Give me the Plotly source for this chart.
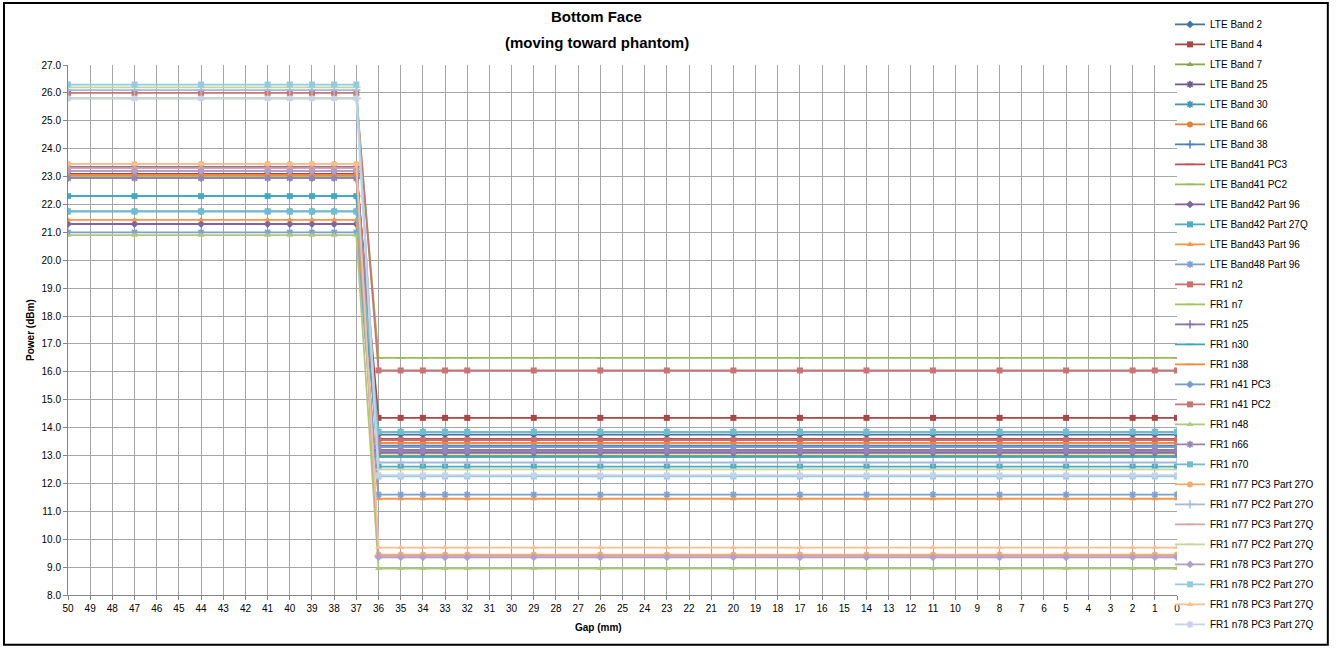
import plotly.graph_objects as go

gaps = [50, 47, 44, 41, 40, 39, 38, 37,
        36, 35, 34, 33, 32, 29, 26, 23, 20, 17, 14, 11, 8, 5, 2, 1, 0]

lte_b2 = [23.1, 23.1, 23.1, 23.1, 23.1, 23.1, 23.1, 23.1,
          13.75, 13.75, 13.75, 13.75, 13.75, 13.75, 13.75, 13.75, 13.75, 13.75, 13.75, 13.75, 13.75, 13.75, 13.75, 13.75, 13.75]
lte_b4 = [23.1, 23.1, 23.1, 23.1, 23.1, 23.1, 23.1, 23.1,
          14.35, 14.35, 14.35, 14.35, 14.35, 14.35, 14.35, 14.35, 14.35, 14.35, 14.35, 14.35, 14.35, 14.35, 14.35, 14.35, 14.35]
lte_b7 = [23.0, 23.0, 23.0, 23.0, 23.0, 23.0, 23.0, 23.0,
          13.0, 13.0, 13.0, 13.0, 13.0, 13.0, 13.0, 13.0, 13.0, 13.0, 13.0, 13.0, 13.0, 13.0, 13.0, 13.0, 13.0]
lte_b25 = [22.95, 22.95, 22.95, 22.95, 22.95, 22.95, 22.95, 22.95,
           13.2, 13.2, 13.2, 13.2, 13.2, 13.2, 13.2, 13.2, 13.2, 13.2, 13.2, 13.2, 13.2, 13.2, 13.2, 13.2, 13.2]
lte_b30 = [21.75, 21.75, 21.75, 21.75, 21.75, 21.75, 21.75, 21.75,
           13.85, 13.85, 13.85, 13.85, 13.85, 13.85, 13.85, 13.85, 13.85, 13.85, 13.85, 13.85, 13.85, 13.85, 13.85, 13.85, 13.85]
lte_b66 = [23.05, 23.05, 23.05, 23.05, 23.05, 23.05, 23.05, 23.05,
           13.45, 13.45, 13.45, 13.45, 13.45, 13.45, 13.45, 13.45, 13.45, 13.45, 13.45, 13.45, 13.45, 13.45, 13.45, 13.45, 13.45]
lte_b38 = [23.2, 23.2, 23.2, 23.2, 23.2, 23.2, 23.2, 23.2,
           13.35, 13.35, 13.35, 13.35, 13.35, 13.35, 13.35, 13.35, 13.35, 13.35, 13.35, 13.35, 13.35, 13.35, 13.35, 13.35, 13.35]
lte_b41_pc3 = [23.3, 23.3, 23.3, 23.3, 23.3, 23.3, 23.3, 23.3,
               13.6, 13.6, 13.6, 13.6, 13.6, 13.6, 13.6, 13.6, 13.6, 13.6, 13.6, 13.6, 13.6, 13.6, 13.6, 13.6, 13.6]
lte_b41_pc2 = [25.8, 25.8, 25.8, 25.8, 25.8, 25.8, 25.8, 25.8,
               16.5, 16.5, 16.5, 16.5, 16.5, 16.5, 16.5, 16.5, 16.5, 16.5, 16.5, 16.5, 16.5, 16.5, 16.5, 16.5, 16.5]
lte_b42_p96 = [21.3, 21.3, 21.3, 21.3, 21.3, 21.3, 21.3, 21.3,
               13.1, 13.1, 13.1, 13.1, 13.1, 13.1, 13.1, 13.1, 13.1, 13.1, 13.1, 13.1, 13.1, 13.1, 13.1, 13.1, 13.1]
lte_b42_p27q = [22.3, 22.3, 22.3, 22.3, 22.3, 22.3, 22.3, 22.3,
                12.6, 12.6, 12.6, 12.6, 12.6, 12.6, 12.6, 12.6, 12.6, 12.6, 12.6, 12.6, 12.6, 12.6, 12.6, 12.6, 12.6]
lte_b43_p96 = [21.45, 21.45, 21.45, 21.45, 21.45, 21.45, 21.45, 21.45,
               11.45, 11.45, 11.45, 11.45, 11.45, 11.45, 11.45, 11.45, 11.45, 11.45, 11.45, 11.45, 11.45, 11.45, 11.45, 11.45, 11.45]
lte_b48_p96 = [21.0, 21.0, 21.0, 21.0, 21.0, 21.0, 21.0, 21.0,
               11.6, 11.6, 11.6, 11.6, 11.6, 11.6, 11.6, 11.6, 11.6, 11.6, 11.6, 11.6, 11.6, 11.6, 11.6, 11.6, 11.6]
fr1_n2 = [23.35, 23.35, 23.35, 23.35, 23.35, 23.35, 23.35, 23.35,
          13.55, 13.55, 13.55, 13.55, 13.55, 13.55, 13.55, 13.55, 13.55, 13.55, 13.55, 13.55, 13.55, 13.55, 13.55, 13.55, 13.55]
fr1_n7 = [23.0, 23.0, 23.0, 23.0, 23.0, 23.0, 23.0, 23.0,
          12.95, 12.95, 12.95, 12.95, 12.95, 12.95, 12.95, 12.95, 12.95, 12.95, 12.95, 12.95, 12.95, 12.95, 12.95, 12.95, 12.95]
fr1_n25 = [23.35, 23.35, 23.35, 23.35, 23.35, 23.35, 23.35, 23.35,
           13.2, 13.2, 13.2, 13.2, 13.2, 13.2, 13.2, 13.2, 13.2, 13.2, 13.2, 13.2, 13.2, 13.2, 13.2, 13.2, 13.2]
fr1_n30 = [22.3, 22.3, 22.3, 22.3, 22.3, 22.3, 22.3, 22.3,
           12.95, 12.95, 12.95, 12.95, 12.95, 12.95, 12.95, 12.95, 12.95, 12.95, 12.95, 12.95, 12.95, 12.95, 12.95, 12.95, 12.95]
fr1_n38 = [23.05, 23.05, 23.05, 23.05, 23.05, 23.05, 23.05, 23.05,
           13.45, 13.45, 13.45, 13.45, 13.45, 13.45, 13.45, 13.45, 13.45, 13.45, 13.45, 13.45, 13.45, 13.45, 13.45, 13.45, 13.45]
fr1_n41_pc3 = [23.2, 23.2, 23.2, 23.2, 23.2, 23.2, 23.2, 23.2,
               13.3, 13.3, 13.3, 13.3, 13.3, 13.3, 13.3, 13.3, 13.3, 13.3, 13.3, 13.3, 13.3, 13.3, 13.3, 13.3, 13.3]
fr1_n41_pc2 = [26.0, 26.0, 26.0, 26.0, 26.0, 26.0, 26.0, 26.0,
               16.05, 16.05, 16.05, 16.05, 16.05, 16.05, 16.05, 16.05, 16.05, 16.05, 16.05, 16.05, 16.05, 16.05, 16.05, 16.05, 16.05]
fr1_n48 = [20.9, 20.9, 20.9, 20.9, 20.9, 20.9, 20.9, 20.9,
           8.95, 8.95, 8.95, 8.95, 8.95, 8.95, 8.95, 8.95, 8.95, 8.95, 8.95, 8.95, 8.95, 8.95, 8.95, 8.95, 8.95]
fr1_n66 = [22.95, 22.95, 22.95, 22.95, 22.95, 22.95, 22.95, 22.95,
           13.15, 13.15, 13.15, 13.15, 13.15, 13.15, 13.15, 13.15, 13.15, 13.15, 13.15, 13.15, 13.15, 13.15, 13.15, 13.15, 13.15]
fr1_n70 = [21.75, 21.75, 21.75, 21.75, 21.75, 21.75, 21.75, 21.75,
           13.85, 13.85, 13.85, 13.85, 13.85, 13.85, 13.85, 13.85, 13.85, 13.85, 13.85, 13.85, 13.85, 13.85, 13.85, 13.85, 13.85]
fr1_n77_pc3_27o = [23.45, 23.45, 23.45, 23.45, 23.45, 23.45, 23.45, 23.45,
                   9.45, 9.45, 9.45, 9.45, 9.45, 9.45, 9.45, 9.45, 9.45, 9.45, 9.45, 9.45, 9.45, 9.45, 9.45, 9.45, 9.45]
fr1_n77_pc2_27o = [26.1, 26.1, 26.1, 26.1, 26.1, 26.1, 26.1, 26.1,
                   12.75, 12.75, 12.75, 12.75, 12.75, 12.75, 12.75, 12.75, 12.75, 12.75, 12.75, 12.75, 12.75, 12.75, 12.75, 12.75, 12.75]
fr1_n77_pc3_27q = [23.3, 23.3, 23.3, 23.3, 23.3, 23.3, 23.3, 23.3,
                   9.4, 9.4, 9.4, 9.4, 9.4, 9.4, 9.4, 9.4, 9.4, 9.4, 9.4, 9.4, 9.4, 9.4, 9.4, 9.4, 9.4]
fr1_n77_pc2_27q = [26.2, 26.2, 26.2, 26.2, 26.2, 26.2, 26.2, 26.2,
                   12.5, 12.5, 12.5, 12.5, 12.5, 12.5, 12.5, 12.5, 12.5, 12.5, 12.5, 12.5, 12.5, 12.5, 12.5, 12.5, 12.5]
fr1_n78_pc3_27o = [23.2, 23.2, 23.2, 23.2, 23.2, 23.2, 23.2, 23.2,
                   9.35, 9.35, 9.35, 9.35, 9.35, 9.35, 9.35, 9.35, 9.35, 9.35, 9.35, 9.35, 9.35, 9.35, 9.35, 9.35, 9.35]
fr1_n78_pc2_27o = [26.3, 26.3, 26.3, 26.3, 26.3, 26.3, 26.3, 26.3,
                   12.25, 12.25, 12.25, 12.25, 12.25, 12.25, 12.25, 12.25, 12.25, 12.25, 12.25, 12.25, 12.25, 12.25, 12.25, 12.25, 12.25]
fr1_n78_pc3_27q = [23.45, 23.45, 23.45, 23.45, 23.45, 23.45, 23.45, 23.45,
                   9.7, 9.7, 9.7, 9.7, 9.7, 9.7, 9.7, 9.7, 9.7, 9.7, 9.7, 9.7, 9.7, 9.7, 9.7, 9.7, 9.7]
fr1_n78_pc3_27q_b = [25.8, 25.8, 25.8, 25.8, 25.8, 25.8, 25.8, 25.8,
                     12.3, 12.3, 12.3, 12.3, 12.3, 12.3, 12.3, 12.3, 12.3, 12.3, 12.3, 12.3, 12.3, 12.3, 12.3, 12.3, 12.3]

series_names = [
    "LTE Band 2", "LTE Band 4", "LTE Band 7", "LTE Band 25", "LTE Band 30",
    "LTE Band 66", "LTE Band 38", "LTE Band41 PC3", "LTE Band41 PC2",
    "LTE Band42 Part 96", "LTE Band42 Part 27Q", "LTE Band43 Part 96",
    "LTE Band48 Part 96", "FR1 n2", "FR1 n7", "FR1 n25", "FR1 n30", "FR1 n38",
    "FR1 n41 PC3", "FR1 n41 PC2", "FR1 n48", "FR1 n66", "FR1 n70",
    "FR1 n77 PC3 Part 27O", "FR1 n77 PC2 Part 27O", "FR1 n77 PC3 Part 27Q",
    "FR1 n77 PC2 Part 27Q", "FR1 n78 PC3 Part 27O", "FR1 n78 PC2 Part 27O",
    "FR1 n78 PC3 Part 27Q", "FR1 n78 PC3 Part 27Q",
]
series_values = [
    lte_b2, lte_b4, lte_b7, lte_b25, lte_b30, lte_b66, lte_b38, lte_b41_pc3,
    lte_b41_pc2, lte_b42_p96, lte_b42_p27q, lte_b43_p96, lte_b48_p96,
    fr1_n2, fr1_n7, fr1_n25, fr1_n30, fr1_n38, fr1_n41_pc3, fr1_n41_pc2,
    fr1_n48, fr1_n66, fr1_n70, fr1_n77_pc3_27o, fr1_n77_pc2_27o,
    fr1_n77_pc3_27q, fr1_n77_pc2_27q, fr1_n78_pc3_27o, fr1_n78_pc2_27o,
    fr1_n78_pc3_27q, fr1_n78_pc3_27q_b,
]
colors = [
    "#4572A7", "#AA4643", "#89A54E", "#71588F", "#4198AF", "#DB843D",
    "#4F81BD", "#C0504D", "#9BBB59", "#8064A2", "#4BACC6", "#F79646",
    "#7CA1D1", "#D06B68", "#A5C35E", "#8C73AF", "#3FA7C5", "#F58A3A",
    "#7A9BD0", "#CD7371", "#AFC97A", "#9983B5", "#6FBDD1", "#F9AB6B",
    "#A5B9DD", "#DDA3A2", "#C4D6A0", "#B1A0C7", "#93CDDD", "#FAC090",
    "#C6D2EA",
]
symbols = [
    "diamond", "square", "triangle-up", "asterisk-open", "asterisk-open", "circle",
    "cross-thin-open", "line-ew-open", "line-ew-open", "diamond", "square", "triangle-up",
    "asterisk-open", "square", "line-ew-open", "cross-thin-open", "line-ew-open", "line-ew-open",
    "diamond", "square", "triangle-up", "asterisk-open", "square", "circle",
    "cross-thin-open", "line-ew-open", "line-ew-open", "diamond", "square", "triangle-up",
    "asterisk-open",
]

fig = go.Figure()
for i, (name, vals) in enumerate(zip(series_names, series_values)):
    c = colors[i]
    sym = symbols[i]
    fig.add_trace(go.Scatter(
        x=gaps, y=vals, name=name, mode="lines+markers",
        legendgroup=f"g{i}",
        line=dict(color=c, width=1.8),
        marker=dict(symbol=sym, size=6, color=c,
                    line=dict(color=c, width=1.5 if sym.endswith("open") else 0)),
    ))

fig.update_layout(
    width=1339, height=649,
    margin=dict(l=68, r=162, t=65, b=54, autoexpand=False),
    paper_bgcolor="white", plot_bgcolor="white",
    font=dict(family="Liberation Sans Narrow, Liberation Sans, Arial", size=10, color="#000000"),
    showlegend=True,
    legend=dict(x=0.9937, y=1.104, xanchor="left", yanchor="top",
                font=dict(size=10), tracegroupgap=1, itemwidth=30,
                maxheight=645, bgcolor="rgba(0,0,0,0)"),
    xaxis=dict(range=[50, 0], autorange=False, dtick=1, tick0=0,
               showgrid=True, gridcolor="#A6A6A6", gridwidth=1,
               showline=True, linecolor="#868686", ticks="outside",
               ticklen=4, tickcolor="#868686", zeroline=False),
    yaxis=dict(range=[8, 27], autorange=False, dtick=1, tick0=0,
               tickformat=".1f", showgrid=True, gridcolor="#A6A6A6",
               gridwidth=1, showline=True, linecolor="#868686",
               ticks="outside", ticklen=4, tickcolor="#868686", zeroline=False),
    annotations=[
        dict(text="<b>Bottom Face</b>", xref="paper", yref="paper",
             x=0.477, y=1.092, xanchor="center", yanchor="middle",
             showarrow=False, font=dict(size=15, family="Liberation Sans")),
        dict(text="<b>(moving toward phantom)</b>", xref="paper", yref="paper",
             x=0.477, y=1.043, xanchor="center", yanchor="middle",
             showarrow=False, font=dict(size=15, family="Liberation Sans")),
        dict(text="<b>Gap (mm)</b>", xref="paper", yref="paper",
             x=0.478, y=-0.0604, xanchor="center", yanchor="middle",
             showarrow=False, font=dict(size=10)),
        dict(text="<b>Power (dBm)</b>", xref="paper", yref="paper",
             x=-0.0343, y=0.5, xanchor="center", yanchor="middle",
             showarrow=False, textangle=-90, font=dict(size=10)),
    ],
    shapes=[dict(type="rect", xref="paper", yref="paper",
                 x0=-0.0577, x1=1.136, y0=-0.094, y1=1.117,
                 line=dict(color="black", width=2))],
)

fig.write_html("out.html", config={"displayModeBar": False},
               post_script="document.body.style.margin='0';document.body.style.padding='0';")
